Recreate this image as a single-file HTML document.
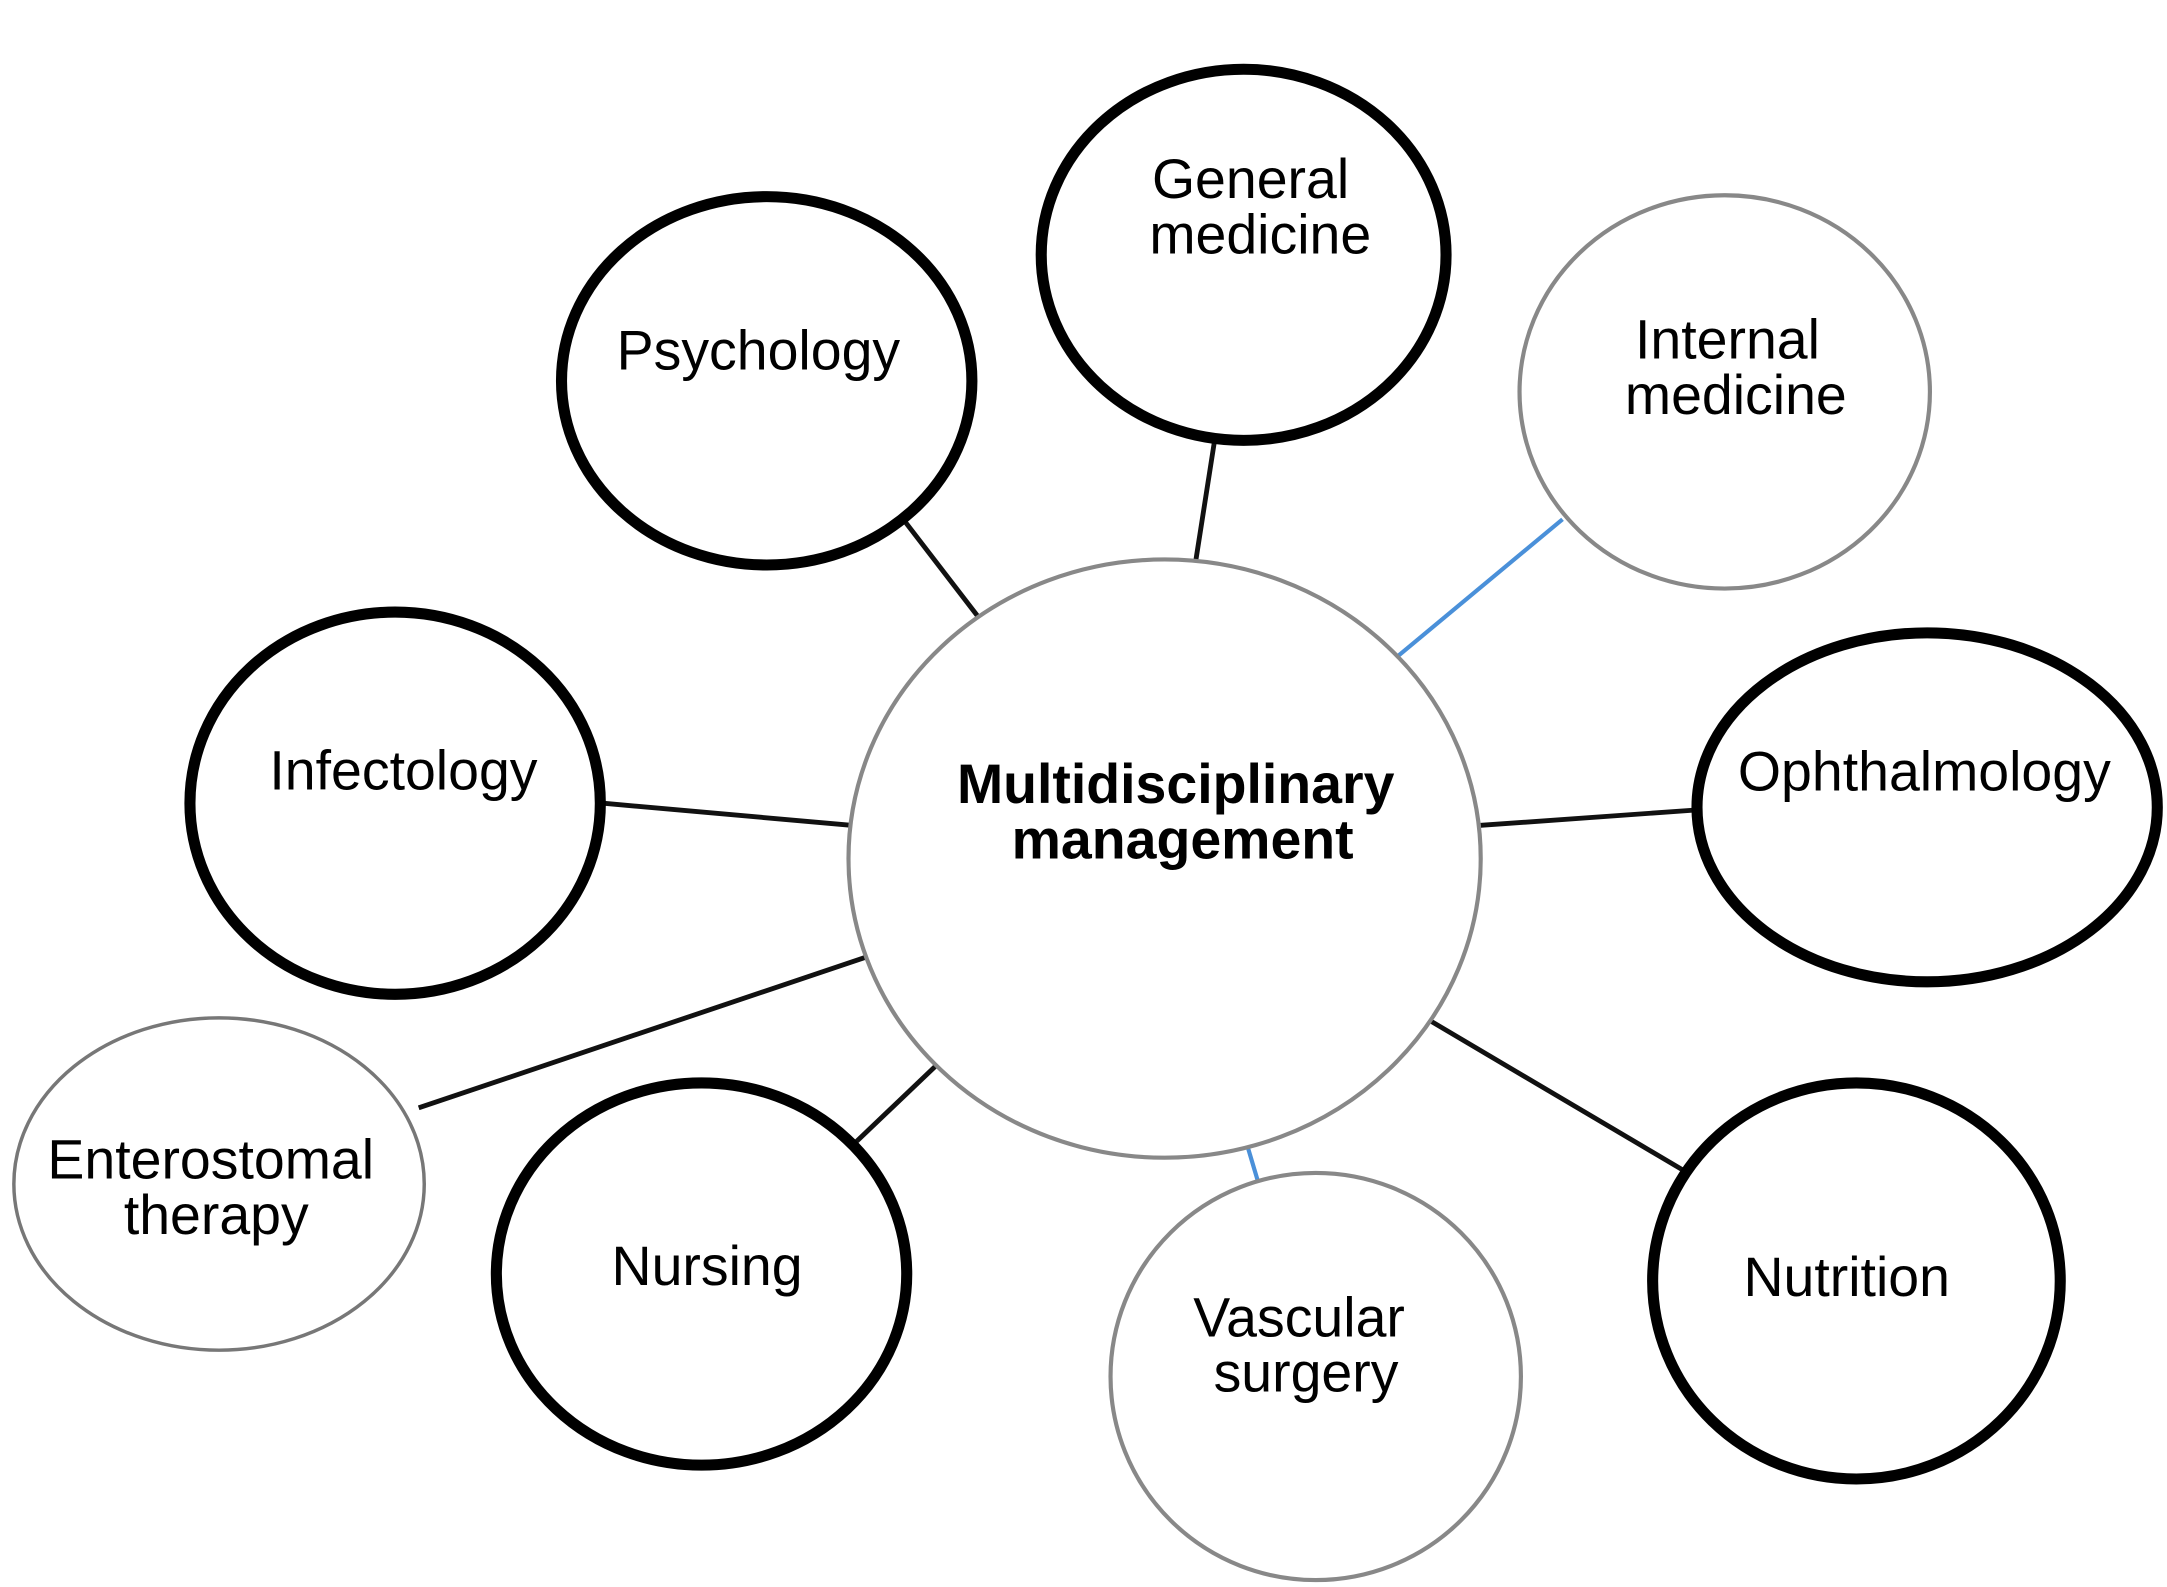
<!DOCTYPE html>
<html><head><meta charset="utf-8"><style>
html,body{margin:0;padding:0;background:#fff;}
svg{display:block;}
text{font-family:"Liberation Sans",Arial,sans-serif;font-size:40px;fill:#000;text-anchor:middle;}
</style></head><body>
<svg width="2167" height="1587" viewBox="0 0 1563 1146" preserveAspectRatio="none" xmlns="http://www.w3.org/2000/svg">
<rect width="1563" height="1146" fill="#fff"/>
<g stroke="#111" stroke-width="3.5">
<line x1="653" y1="377" x2="706" y2="446"/>
<line x1="877" y1="312" x2="862" y2="408"/>
<line x1="435" y1="580" x2="614" y2="596"/>
<line x1="1068" y1="596" x2="1222" y2="585"/>
<line x1="302" y1="800" x2="628" y2="690"/>
<line x1="617" y1="825" x2="683" y2="762"/>
<line x1="1028" y1="735" x2="1214" y2="845"/>
</g>
<g stroke="#4a90d9" stroke-width="3">
<line x1="1127" y1="375" x2="1008" y2="474"/>
<line x1="896" y1="815" x2="907" y2="852"/>
</g>
<g fill="#fff">
<ellipse cx="840" cy="620" rx="228" ry="216" stroke="#888" stroke-width="3"/>
<ellipse cx="897" cy="184" rx="146" ry="134" stroke="#000" stroke-width="8"/>
<ellipse cx="553" cy="275" rx="148" ry="133" stroke="#000" stroke-width="8"/>
<ellipse cx="1244" cy="283" rx="148" ry="142" stroke="#888" stroke-width="3"/>
<ellipse cx="285" cy="580" rx="148" ry="138" stroke="#000" stroke-width="8"/>
<ellipse cx="1390" cy="583" rx="166" ry="126" stroke="#000" stroke-width="8"/>
<ellipse cx="158" cy="855" rx="148" ry="120" stroke="#777" stroke-width="2.5"/>
<ellipse cx="506" cy="920" rx="148" ry="138" stroke="#000" stroke-width="8"/>
<ellipse cx="949" cy="994" rx="148" ry="147" stroke="#888" stroke-width="3"/>
<ellipse cx="1339" cy="925" rx="147" ry="143" stroke="#000" stroke-width="8"/>
</g>
<text x="848" y="580" style="font-weight:bold">Multidisciplinary</text>
<text x="853" y="620" style="font-weight:bold">management</text>
<text x="902" y="143">General</text>
<text x="909" y="183">medicine</text>
<text x="547" y="267">Psychology</text>
<text x="1246" y="259">Internal</text>
<text x="1252" y="299">medicine</text>
<text x="291" y="570">Infectology</text>
<text x="1388" y="571">Ophthalmology</text>
<text x="152" y="851">Enterostomal</text>
<text x="156" y="891">therapy</text>
<text x="510" y="928">Nursing</text>
<text x="937" y="965">Vascular</text>
<text x="942" y="1005">surgery</text>
<text x="1332" y="936">Nutrition</text>
</svg>
</body></html>
